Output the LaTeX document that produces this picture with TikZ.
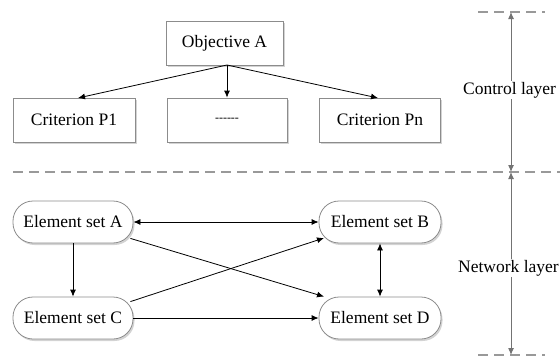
\documentclass[tikz,border=0pt]{standalone}
\usepackage{fontspec}
\setmainfont{Liberation Serif}
\usetikzlibrary{arrows.meta,shadows}
\begin{document}
\begin{tikzpicture}[x=1pt,y=-1pt,
  font=\fontsize{17.5}{20}\selectfont,
  boxnode/.style={draw=black!45,fill=white,line width=0.8pt,minimum width=120pt,minimum height=44pt,inner sep=0pt,
    drop shadow={shadow xshift=1.5pt,shadow yshift=-2pt,opacity=0.35,fill=black!50}},
  pillnode/.style={boxnode,rounded corners=20pt,minimum height=42pt},
  arr/.style={-{Latex[length=7pt,width=6pt]},line width=0.8pt},
  biarr/.style={{Latex[length=7pt,width=6pt]}-{Latex[length=7pt,width=6pt]},line width=0.8pt},
  sep/.style={dashed,dash pattern=on 10pt off 6pt,draw=black!40,line width=1.3pt},
  layarr/.style={{Latex[length=7pt,width=6pt]}-{Latex[length=7pt,width=6pt]},draw=black!55,line width=1pt},
  laylabel/.style={fill=white,inner sep=1pt,anchor=west}
]
\useasboundingbox (0,0) rectangle (560,364);
\clip (0,0) rectangle (560,364);
% control layer
\node[boxnode,minimum width=117pt] (obj) at (224.5,43) {Objective A};
\node[boxnode,minimum width=122pt] (p1) at (74,120) {Criterion P1};
\node[boxnode,minimum width=120pt] (mid) at (227,120) {\fontsize{12}{14}\selectfont -{}-{}-{}-{}-{}-};
\node[boxnode,minimum width=121pt] (pn) at (380,120) {Criterion Pn};
\coordinate (src) at (227,65);
\draw[arr] (src) -- (78,98) coordinate (p1t);
\draw[arr] (src) -- (mid.north);
\draw[arr] (src) -- (378,98) coordinate (pnt);
% separators
\coordinate (s1a) at (13,172); \coordinate (s1b) at (560,172);
\draw[sep] (s1a) -- (s1b);
\coordinate (s0a) at (478,12); \coordinate (s0b) at (545,12);
\draw[sep] (s0a) -- (s0b);
\coordinate (s2a) at (478,355); \coordinate (s2b) at (545,355);
\draw[sep] (s2a) -- (s2b);
% layer arrows
\coordinate (lt) at (511,12); \coordinate (lm) at (511,172); \coordinate (lb) at (511,355);
\draw[layarr] (lt) -- (lm);
\draw[layarr] (lm) -- (lb);
\node[laylabel] (ctl) at (462,90) {Control layer};
\node[laylabel] (net) at (457,268) {Network layer};
% network layer
\node[pillnode] (ea) at (73,222) {Element set A};
\node[pillnode] (ec) at (73,318) {Element set C};
\node[pillnode,minimum width=122pt] (eb) at (380,222) {Element set B};
\node[pillnode,minimum width=122pt] (ed) at (380,318) {Element set D};
\draw[biarr] (ea) -- (eb);
\draw[arr] (ea) -- (ec);
\draw[arr] (ec) -- (ed);
\draw[biarr] (eb) -- (ed);
\draw[arr] (ea.south east) ++(-3,-5) coordinate (ase) -- (ed.north west -| 324,302);
\draw[arr] (ec.north east) ++(-3,5) coordinate (cne) -- (324,238);
\end{tikzpicture}
\end{document}
